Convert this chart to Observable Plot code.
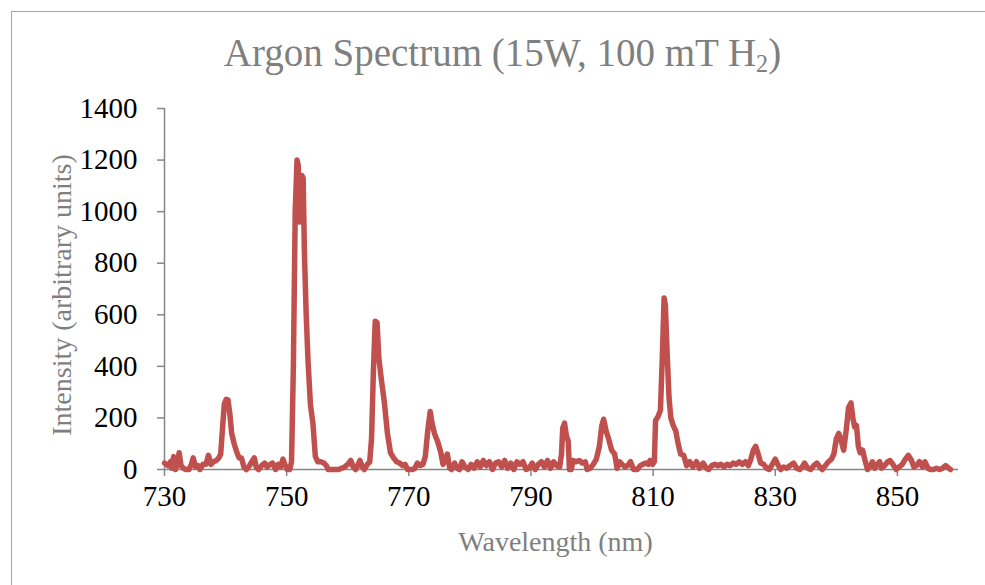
<!DOCTYPE html>
<html><head><meta charset="utf-8">
<script src="https://cdn.jsdelivr.net/npm/d3@7"></script>
<script src="https://cdn.jsdelivr.net/npm/@observablehq/plot@0.6"></script>
<style>
html,body{margin:0;padding:0;background:#fff;overflow:hidden;}
#wrap{position:relative;width:985px;height:585px;}
#border{position:absolute;left:11px;top:11px;width:2000px;height:2000px;border:1px solid #a6a6a6;}
#title{position:absolute;left:20px;width:965px;top:33px;text-align:center;font-family:"Liberation Serif",serif;font-size:39px;color:#7f7f7f;line-height:1;white-space:nowrap;}
#title sub{font-size:0.62em;vertical-align:-0.25em;line-height:0;}
#chart{position:absolute;left:0;top:0;}
</style></head>
<body><div id="wrap"><div id="border"></div><div id="chart"></div><div id="title">Argon Spectrum (15W, 100 mT H<sub>2</sub>)</div></div>
<script>
const wavelengths = [
730.0,730.6,731.0,731.2,731.5,731.8,732.1,732.4,732.7,733.1,
733.5,734.0,734.4,734.7,735.1,735.5,735.8,736.3,736.8,737.2,
737.6,738.0,738.5,738.9,739.2,739.5,739.8,740.1,740.4,740.7,
741.0,741.4,741.8,742.2,742.6,743.0,743.4,743.8,744.3,744.7,
745.0,745.4,745.9,746.4,746.8,747.3,747.7,748.2,748.6,749.0,
749.4,749.7,750.1,750.5,750.8,751.1,751.4,751.7,751.9,752.1,
752.3,752.5,752.7,752.9,753.2,753.5,753.9,754.3,754.7,755.1,
755.6,756.1,756.5,756.8,757.4,758.0,758.5,759.0,759.5,760.0,
760.5,760.9,761.3,761.7,762.0,762.4,762.7,763.2,763.6,763.9,
764.2,764.5,764.8,765.1,765.5,766.0,766.5,767.0,767.5,768.0,
768.5,769.0,769.4,769.8,770.6,771.0,771.4,771.9,772.3,772.7,
773.1,773.5,773.8,774.2,774.7,775.2,775.6,776.0,776.3,776.7,
777.0,777.5,777.9,778.3,778.7,779.2,779.7,780.2,780.7,781.2,
781.7,782.2,782.7,783.2,783.7,784.2,784.7,785.2,785.7,786.2,
786.7,787.2,787.7,788.2,788.7,789.2,789.7,790.2,790.7,791.2,
791.7,792.2,792.7,793.2,793.7,794.2,794.7,795.0,795.2,795.5,
795.8,796.1,796.3,796.6,796.9,797.4,797.9,798.4,798.9,799.2,
799.7,800.2,800.7,801.2,801.6,801.9,802.3,802.7,803.2,803.7,
804.1,804.5,804.9,805.4,805.8,806.3,806.8,807.4,807.9,808.3,
808.8,809.2,809.5,809.9,810.2,810.4,810.8,811.2,811.5,811.8,
812.0,812.3,812.6,812.9,813.3,813.7,814.1,814.5,815.0,815.5,
816.0,816.5,817.1,817.6,818.2,818.7,819.1,819.6,820.1,820.6,
821.1,821.6,822.1,822.6,823.1,823.6,824.1,824.6,825.1,825.6,
826.0,826.4,826.8,827.2,827.6,828.1,828.6,829.0,829.5,830.0,
830.5,830.9,831.4,831.9,832.4,833.0,833.5,834.0,834.4,834.8,
835.3,835.8,836.3,836.8,837.3,837.7,838.2,838.7,839.2,839.6,
840.0,840.4,840.8,841.2,841.6,842.0,842.4,842.7,843.0,843.3,
843.6,843.9,844.3,844.7,845.1,845.5,845.9,846.3,846.7,847.1,
847.4,847.9,848.4,848.8,849.4,849.8,850.3,850.8,851.3,851.8,
852.3,852.7,853.1,853.6,854.1,854.5,855.0,855.4,855.9,856.4,
856.9,857.4,857.9,858.4,858.7
];
const intensities = [
25,15,30,5,50,0,20,65,15,5,
0,0,20,45,10,15,0,20,20,55,
20,30,35,45,60,160,255,272,270,215,
140,100,70,45,45,10,0,10,30,45,
10,0,15,25,10,20,25,0,20,10,
40,20,0,0,30,400,1000,1200,1180,960,
970,1140,1130,850,600,420,250,180,50,30,
30,25,15,0,0,0,0,5,10,20,
35,10,0,20,35,10,0,20,30,120,
380,575,570,430,350,260,140,65,45,30,
25,15,20,0,0,5,25,15,20,50,
150,225,180,140,110,70,20,40,60,5,
0,25,5,0,30,10,0,20,5,30,
10,35,15,30,0,25,30,10,35,5,
25,0,30,20,30,0,5,25,0,20,
30,10,35,5,30,15,10,60,160,180,
130,110,0,0,35,30,35,25,30,0,
5,20,40,90,170,195,150,120,75,60,
5,30,20,10,15,30,0,0,15,20,
25,20,35,20,30,190,205,230,430,665,
640,450,280,200,170,150,100,60,55,15,
30,10,30,5,25,5,0,15,20,15,
20,10,20,15,25,20,30,20,30,15,
40,75,90,60,25,20,5,0,20,40,
15,0,10,5,15,25,5,0,10,25,
5,0,15,25,10,0,15,30,40,60,
120,140,110,75,150,240,258,200,165,170,
90,65,75,35,0,10,30,5,20,30,
5,15,30,35,15,0,10,20,40,55,
35,10,15,30,10,30,5,0,0,5,
0,5,15,5,0
];
const xTicks = [730, 750, 770, 790, 810, 830, 850];
const yTicks = [0, 200, 400, 600, 800, 1000, 1200, 1400];
const xLabel = "Wavelength (nm)";
const yLabel = "Intensity (arbitrary units)";

const n = Math.min(wavelengths.length, intensities.length);
const data = wavelengths.slice(0, n).map((w, i) => ({w, v: intensities[i]}));
const fmt = d3.format("d");
const plot = Plot.plot({
  width: 985,
  height: 585,
  marginLeft: 164,
  marginRight: 27,
  marginTop: 108,
  marginBottom: 116,
  x: {domain: [730, 860]},
  y: {domain: [0, 1400]},
  style: {fontFamily: "'Liberation Serif', serif", background: "transparent", overflow: "visible"},
  marks: [
    Plot.ruleY([0], {stroke: "#868686", strokeWidth: 1.5}),
    Plot.ruleX([730], {stroke: "#868686", strokeWidth: 1.5}),
    Plot.axisX({ticks: xTicks, tickSize: 7, tickPadding: 9, fontSize: 29, stroke: "#868686", strokeWidth: 1.5, fill: "#000", label: null, tickFormat: fmt}),
    Plot.axisY({ticks: yTicks, tickSize: 7, tickPadding: 20, fontSize: 29, stroke: "#868686", strokeWidth: 1.5, fill: "#000", label: null, tickFormat: fmt}),
    Plot.line(data, {x: "w", y: "v", stroke: "#c0504d", strokeWidth: 5.5, strokeLinejoin: "round", strokeLinecap: "round"}),
    Plot.text([yLabel], {frameAnchor: "left", textAnchor: "middle", rotate: -90, dx: -102, dy: 6, fontSize: 28, fill: "#7f7f7f"}),
    Plot.text([xLabel], {frameAnchor: "bottom", dx: -6, dy: 81, fontSize: 28, fill: "#7f7f7f"})
  ]
});
document.getElementById("chart").appendChild(plot);
</script>
</body></html>
